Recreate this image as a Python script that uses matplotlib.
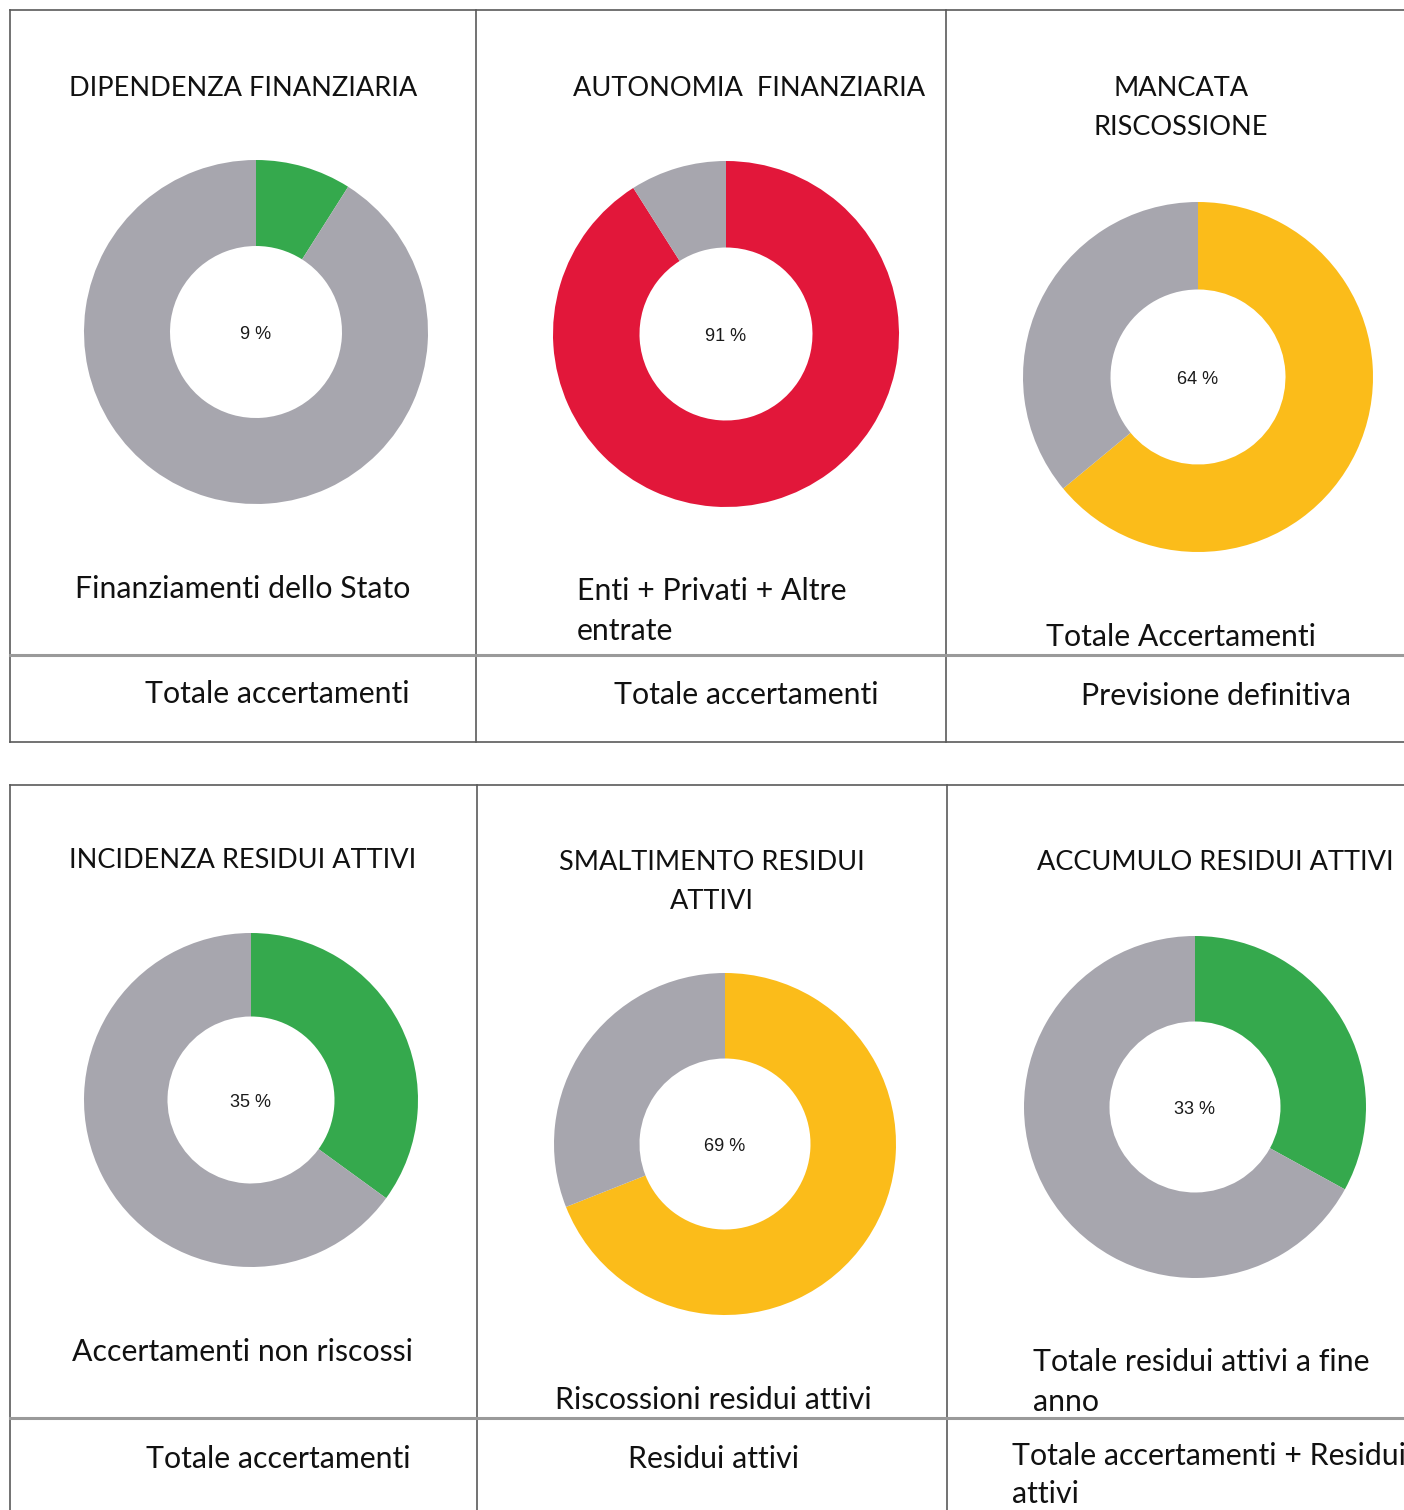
import matplotlib
matplotlib.use("Agg")
import matplotlib.pyplot as plt

W, H = 1404, 1510
DPI = 100

titles = ["DIPENDENZA FINANZIARIA", "AUTONOMIA  FINANZIARIA", "MANCATA\nRISCOSSIONE",
          "INCIDENZA RESIDUI ATTIVI", "SMALTIMENTO RESIDUI\nATTIVI", "ACCUMULO RESIDUI ATTIVI"]
numerators = ["Finanziamenti dello Stato", "Enti + Privati + Altre\nentrate", "Totale Accertamenti",
              "Accertamenti non riscossi", "Riscossioni residui attivi", "Totale residui attivi a fine\nanno"]
denominators = ["Totale accertamenti", "Totale accertamenti", "Previsione definitiva",
                "Totale accertamenti", "Residui attivi", "Totale accertamenti + Residui\nattivi"]
percent_values = [9, 91, 64, 35, 69, 33]
highlight_colors = ["#35a94d", "#e2173a", "#fbbc1a", "#35a94d", "#fbbc1a", "#35a94d"]
GRAY = "#a7a6ae"

FONT = "Lato"

fig = plt.figure(figsize=(W / DPI, H / DPI), dpi=DPI)
bg = fig.add_axes([0, 0, 1, 1])
bg.set_xlim(0, W)
bg.set_ylim(H, 0)
bg.axis("off")

line_dark = dict(color="#5a5a5a", lw=1.2)
line_light = dict(color="#9a9a9a", lw=2.2)

# table 1
bg.plot([10, W], [10, 10], **line_dark)
bg.plot([10, W], [742, 742], **line_dark)
bg.plot([10, 10], [10, 742], **line_dark)
bg.plot([476, 476], [10, 742], **line_dark)
bg.plot([946, 946], [10, 742], **line_dark)
bg.plot([10, W], [655, 655], **line_light)
# table 2
bg.plot([10, W], [785, 785], **line_dark)
bg.plot([10, 10], [785, H], **line_dark)
bg.plot([477, 477], [785, H], **line_dark)
bg.plot([947, 947], [785, H], **line_dark)
bg.plot([10, W], [1418, 1418], **line_light)

# donut geometry (pixel centers / radii)
centers = [(256, 332), (726, 334), (1198, 377), (251, 1100), (725, 1144), (1195, 1107)]
radii = [172, 173, 175, 167, 171, 171]

for (cx, cy), r, v, col in zip(centers, radii, percent_values, highlight_colors):
    ax = fig.add_axes([(cx - r) / W, 1 - (cy + r) / H, 2 * r / W, 2 * r / H])
    ax.pie([v, 100 - v], colors=[col, GRAY], startangle=90, counterclock=False,
           radius=1, wedgeprops=dict(width=0.5, linewidth=0))
    ax.set_xlim(-1, 1)
    ax.set_ylim(-1, 1)
    ax.set_aspect("equal")
    ax.axis("off")
    ax.text(0, -0.015, f"{v} %", ha="center", va="center", fontsize=13,
            family="Liberation Sans", color="#1a1a1a")

TFS = 19.5
LFS = 21.8
DY = 3
# titles
title_pos = [(243, 85, "center"), (749, 85, "center"), (1181, 105, "center"),
             (243, 858, "center"), (712, 879, "center"), (1215, 860, "center")]
for t, (x, y, ha) in zip(titles, title_pos):
    bg.text(x, y + DY, t, ha=ha, va="center", fontsize=TFS, family=FONT, color="#111111",
            linespacing=1.67)

num_pos = [(243, 586, "center"), (577, 608, "left"), (1181, 634, "center"),
           (243, 1349, "center"), (713, 1397, "center"), (1033, 1379, "left")]
for t, (x, y, ha) in zip(numerators, num_pos):
    bg.text(x, y + DY, t, ha=ha, va="center", fontsize=LFS, family=FONT, color="#111111",
            linespacing=1.48)

den_pos = [(277, 691, "center"), (746, 692, "center"), (1216, 693, "center"),
           (278, 1456, "center"), (714, 1456, "center"), (1012, 1472, "left")]
for t, (x, y, ha) in zip(denominators, den_pos):
    bg.text(x, y + DY, t, ha=ha, va="center", fontsize=LFS, family=FONT, color="#111111",
            linespacing=1.4, clip_on=True)

fig.savefig("out.png", dpi=DPI, facecolor="white")
